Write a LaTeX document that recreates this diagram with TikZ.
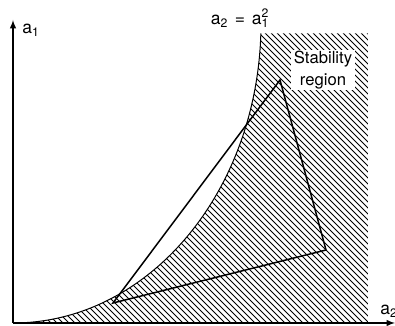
\documentclass[tikz,border=0pt]{standalone}
\usepackage{fontspec}
\setsansfont{TeX Gyre Heros}
\begin{document}
\begin{tikzpicture}[>=latex,x=0.6pt,y=0.6pt,
    lbl/.style={font=\sffamily\fontsize{10.5}{13}\selectfont,inner sep=0pt},
    hatchline/.style={line width=0.55pt}]
    \useasboundingbox (0,0) rectangle (395,326);
    \coordinate (O) at (13,3);
    \coordinate (Ytip) at (13,306);
    \coordinate (Xtip) at (395,3);
    % stability region, hatched
    \begin{scope}
      \clip (O) arc[start angle=-90,end angle=-2,x radius=248,y radius=300]
        -- ++(107,0) |- (O);
      \foreach \i in {-330,-324,...,372}
        \draw[hatchline] (\i,330) -- ++(340,-340);
    \end{scope}
    \draw[line width=0.6pt] (O) arc[start angle=-90,end angle=-2,x radius=248,y radius=300]
      coordinate (Ctop);
    % axes
    \draw[->,line width=0.75pt] (O) -- (Ytip);
    \draw[->,line width=0.75pt] (O) -- (Xtip);
    \node[lbl,anchor=west] (la1) at (22,296) {a\textsubscript{1}};
    \node[lbl,anchor=west] (la2) at (380,15) {a\textsubscript{2}};
    \node[lbl] (eq) at (240,308) {a\textsubscript{2}\hspace{4pt}=\hspace{4pt}a\rlap{\textsuperscript{2}}\textsubscript{1}};
    \node[lbl,font=\sffamily\fontsize{10}{13}\selectfont,fill=white,inner xsep=1.5pt,inner ysep=0.5pt,align=center] (stab) at (323,256) {Stability\\region};
    % triangle
    \coordinate (A) at (113,23);
    \coordinate (B) at (280,246);
    \coordinate (C) at (326,76);
    \draw[line width=0.9pt,line join=miter] (A) -- (B) -- (C) -- cycle;
  \end{tikzpicture}
\end{document}
